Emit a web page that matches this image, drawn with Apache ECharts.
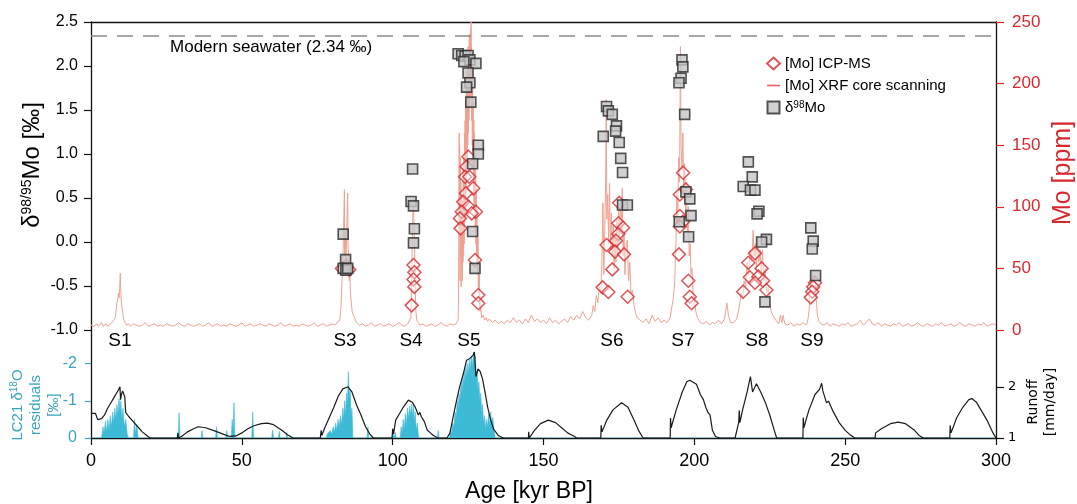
<!DOCTYPE html>
<html><head><meta charset="utf-8">
<script src="https://cdn.jsdelivr.net/npm/echarts@6/dist/echarts.min.js"></script>
<style>html,body{margin:0;padding:0;background:#fff}#c{width:1077px;height:504px}</style>
</head><body><div id="c"></div>
<script>
// ---------- DATA ----------
// XRF core scanning Mo [age kyr, ppm]
const xrfMo = [
[0,4],[0.5,5],[1,3],[1.5,4],[2,5],[2.5,3],[3,4],[3.5,6],[4,3],[4.5,4],[5,5],[5.5,3],[6,4],[6.5,5],[7,6],
[7.5,8],[8,10],[8.3,15],[8.6,22],[8.9,25],[9.1,30],[9.3,26],[9.5,34],[9.7,46],[9.9,30],[10.1,22],[10.3,18],[10.6,12],[10.9,8],[11.3,6],[11.8,4],
[12.5,5],[13,3],[14,5],[15,4],[16,3],[17,4],[18,6],[19,3],[20,4],[21,5],[22,3],[23,4],[24,3],[25,5],[26,4],[27,3],[28,4],[29,6],[30,4],[31,3],[32,5],[33,4],[34,3],[35,4],[36,5],[37,3],[38,4],[39,6],[40,3],[41,4],[42,5],[43,3],[44,4],[45,3],[46,5],[47,4],[48,3],[49,4],[50,6],[51,3],[52,4],[53,5],[54,3],[55,4],[56,5],[57,4],[58,3],[59,5],[60,4],[61,3],[62,4],[63,6],[64,3],[65,4],[66,5],[67,3],[68,4],[69,3],[70,5],[71,4],[72,3],[73,4],[74,6],[75,3],[76,4],[77,5],[78,3],[79,4],[80,5],[81,4],[81.5,6],[82,5],
[82.5,8],[82.9,20],[83.2,40],[83.5,55],[83.8,90],[84.0,114],[84.1,60],[84.3,80],[84.5,55],[84.7,70],[84.9,95],[85.1,111],[85.2,70],[85.4,60],[85.6,40],[85.8,45],[86.0,30],[86.3,22],[86.6,15],[87.0,12],[87.5,9],[88,6],
[89,4],[90,5],[91,3],[92,4],[93,6],[94,3],[95,4],[96,5],[97,3],[98,4],[99,5],[100,3],[101,4],[102,6],[103,4],[104,3],[105,5],
[105.5,5],[106.0,10],[106.3,40],[106.5,70],[106.7,95],[106.9,100],[107.1,85],[107.3,60],[107.5,30],[107.7,15],[108,8],[108.5,6],
[109,4],[110,5],[111,3],[112,4],[113,5],[114,3],[115,4],[116,6],[117,4],[118,3],[119,5],[120,4],[121,5],
[121.5,5],[121.7,8],[121.8,20],[121.9,60],[122.0,120],[122.05,160],[122.1,90],[122.2,150],[122.3,40],[122.4,140],[122.5,60],[122.6,120],[122.7,35],[122.8,110],[122.9,50],[123.0,95],[123.1,40],[123.2,105],[123.3,55],[123.4,130],[123.5,60],[123.6,140],[123.7,70],[123.8,160],[123.9,90],[124.0,170],[124.1,100],[124.2,185],[124.3,110],[124.4,200],[124.5,120],[124.6,210],[124.7,140],[124.8,220],[124.9,150],[125.0,230],[125.1,160],[125.2,215],[125.3,170],[125.4,240],[125.5,180],[125.6,230],[125.7,190],[125.8,245],[125.9,200],[126.0,275],[126.05,190],[126.1,230],[126.2,170],[126.3,220],[126.4,150],[126.5,200],[126.6,130],[126.7,185],[126.8,110],[126.9,170],[127.0,100],[127.1,160],[127.2,90],[127.3,140],[127.4,80],[127.5,130],[127.6,70],[127.7,115],[127.8,60],[127.9,100],[128.0,50],[128.1,85],[128.2,45],[128.3,75],[128.4,35],[128.5,55],[128.6,30],[128.7,45],[128.8,20],[128.9,28],[129.0,15],[129.2,18],[129.5,10],
[130,12],[130.5,8],[131,10],[131.5,7],[132,9],[133,6],[134,8],[135,5],[136,7],[137,5],[138,8],[139,6],[140,10],[141,6],[142,8],[143,5],[144,9],[145,6],[146,12],[147,7],[148,9],[149,6],[150,8],[151,5],[152,10],[153,6],[154,8],[155,5],[156,7],[157,9],[158,6],[159,11],[160,8],[161,12],[162,9],[163,15],[164,10],
[165,8],[166,12],[166.5,20],[167,15],[167.5,28],[168,22],[168.5,35],[169,30],[169.4,60],[169.7,103],[170.0,45],[170.3,80],[170.6,120],[170.8,187],[171.0,90],[171.3,110],[171.6,70],[171.9,119],[172.2,65],[172.5,95],[172.8,60],[173.1,85],[173.4,50],[173.7,78],[174.0,55],[174.3,90],[174.6,60],[174.9,100],[175.2,70],[175.5,105],[175.8,80],[176.1,115],[176.4,60],[176.7,80],[177.0,45],[177.4,70],[177.8,73],[178.2,40],[178.6,55],[179.0,30],[179.5,32],[180,20],[180.5,14],[181,10],[182,8],
[183,6],[184,9],[185,5],[186,12],[187,7],[188,10],[189,6],[190,8],[191,6],
[191.5,6],[192,10],[192.5,18],[193,25],[193.5,40],[193.9,70],[194.2,110],[194.5,90],[194.8,140],[195.1,120],[195.4,230],[195.6,150],[195.9,130],[196.2,160],[196.5,110],[196.8,135],[197.1,95],[197.4,120],[197.7,80],[198.0,100],[198.3,60],[198.6,70],[198.9,45],[199.2,50],[199.6,30],[200.0,25],[200.5,15],[201,10],[201.5,8],[202,6],
[203,5],[204,7],[205,4],[206,6],[207,5],[208,8],[209,5],[210,9],[210.8,22],[211.3,12],[212,6],
[213,6],[214,9],[214.5,14],[215,20],[215.5,30],[216,25],[216.5,40],[217,35],[217.5,55],[218,45],[218.5,65],[219,55],[219.5,81],[219.8,60],[220.2,70],[220.6,50],[221,76],[221.4,55],[221.8,65],[222.2,45],[222.6,65],[223,40],[223.5,50],[224,30],[224.5,35],[225,22],[225.5,15],[226,12],[227,8],
[228,5],[228.5,12],[229,6],[229.4,12],[230,5],[231,4],[232,6],[233,3],[234,5],[235,4],[236,6],[237,4],
[237.5,6],[238,15],[238.4,30],[238.8,40],[239.2,46],[239.6,38],[240,42],[240.4,25],[240.8,12],[241.3,7],
[242,5],[243,4],[244,6],[245,3],[246,5],[247,4],[248,3],[249,5],[250,4],[251,6],[252,3],[253,4],[254,5],[255,8],[256,4],[257,6],[258,9],[259,5],[260,4],[261,6],[262,3],[263,5],[264,4],[265,3],[266,5],[267,4],[268,6],[269,3],[270,4],[271,5],[272,3],[273,4],[274,6],[275,4],[276,3],[277,5],[278,4],[279,3],[280,5],[281,4],[282,6],[283,3],[284,4],[285,5],[286,3],[287,4],[288,6],[289,4],[290,3],[291,5],[292,4],[293,3],[294,5],[295,4],[296,6],[297,3],[298,4],[299,5],[300,4]
];
// ICP-MS Mo [age, ppm]
const icpMo = [
[83.2,50],[84.5,52],[85.6,49],
[106.9,52.8],[107.2,46.8],[106.9,41],[107.2,35],[106.3,20],
[125.1,140.7],[124.5,132.6],[124.0,124.4],[125.4,124.4],[126.7,115],[124.3,111],[123.4,104],[125.1,100],[127.6,96],[126.2,94.7],[122.9,96],[122.3,90.6],[122.5,82.5],[127.3,56.8],[128.4,28.4],[128.4,21.7],
[175.1,103.2],[174.8,86.6],[176.4,83],[174.8,77.9],[174.0,72.5],[170.9,69],[173.7,63.6],[176.7,61.4],[172.8,49.2],[169.6,34.6],[171.5,30.8],[177.9,27],
[196.3,127.7],[195.2,110],[197.2,114],[195.2,92.5],[196.3,88],[195.2,84],[194.9,61.4],[198.0,40],[198.5,27],[199.1,21.7],
[220.1,62.2],[217.9,54.6],[222.3,50],[218.4,42.8],[221.2,43.3],[222.8,40],[220.1,38.4],[223.9,32.5],[216.2,31.1],
[240.0,38.4],[239.4,35],[239.1,31],[238.6,26.5]
];
// delta98Mo [age, permil]
const d98Mo = [
[83.6,0.09],[84.4,-0.20],[83.6,-0.30],[84.5,-0.32],[85.1,-0.30],
[106.6,0.83],[106.1,0.46],[106.9,0.41],[107.2,0.15],[106.9,-0.01],
[121.7,2.14],[122.9,2.12],[124.0,2.11],[125.0,2.12],[125.6,2.07],[127.6,2.03],[123.6,2.05],[125.0,1.92],[125.6,1.81],[124.5,1.76],[125.9,1.59],[128.4,1.10],[128.4,1.0],[126.5,0.89],[126.5,0.12],[127.3,-0.30],
[170.9,1.54],[171.5,1.49],[172.8,1.45],[174.2,1.32],[173.9,1.26],[169.8,1.20],[175.1,1.13],[175.6,0.95],[176.2,0.79],[176.2,0.42],[177.8,0.42],
[195.9,2.07],[196.2,1.99],[195.6,1.86],[194.9,1.81],[196.8,1.45],[197.2,0.57],[198.5,0.49],[198.9,0.30],[195.0,0.23],[198.1,0.06],
[217.9,0.91],[219.2,0.74],[216.2,0.63],[218.6,0.59],[220.1,0.59],[221.4,0.35],[220.8,0.32],[223.9,0.03],[222.3,0.0],[223.4,-0.68],
[238.6,0.16],[239.4,0.01],[239.1,-0.08],[240.2,-0.38]
];
// LC21 d18O residuals [age, permil]
const lc21Residuals = [
[0,0],[3.5,0],[4,-0.3],[4.3,-0.1],[4.8,-0.45],[5.1,-0.15],[5.6,-0.5],[6.0,-0.2],[6.4,-0.6],[6.8,-0.3],[7.2,-0.7],[7.5,-0.4],[7.9,-0.8],[8.2,-0.5],[8.6,-0.9],[8.9,-0.6],[9.3,-1.07],[9.6,-0.7],[9.9,-1.0],[10.2,-0.5],[10.6,-0.8],[11.0,-0.3],[11.5,-0.5],[12,-0.1],[12.5,0],[14.1,0],[14.4,-0.5],[14.8,-0.1],[15.2,-0.35],[15.6,0],
[28.9,0],[29.2,-0.68],[29.5,0],[36.5,0],[36.8,-0.2],[37.1,0],[41.3,0],[41.6,-0.3],[41.9,0],[44.7,0],[45,-0.2],[45.3,0],[46.5,0],[46.8,-0.5],[47.1,-0.2],[47.4,-0.95],[47.7,0],[53.3,0],[53.6,-0.7],[53.9,0],[59.9,0],[60.2,-0.22],[60.5,0],[62.1,0],[62.4,-0.18],[62.7,0],[64.6,0],[64.9,-0.15],[65.2,0],
[78,0],[78.3,-0.1],[78.8,-0.05],[79.3,-0.2],[79.8,-0.1],[80.3,-0.3],[80.7,-0.15],[81.1,-0.4],[81.5,-0.2],[81.9,-0.5],[82.3,-0.3],[82.7,-0.6],[83.1,-0.35],[83.5,-0.8],[83.8,-0.5],[84.1,-1.0],[84.4,-0.6],[84.7,-1.2],[85.0,-0.9],[85.3,-1.78],[85.6,-1.1],[85.9,-1.3],[86.2,-0.6],[86.5,-0.8],[86.8,0],[91.5,0],[91.8,-0.3],[92.1,0],
[99.8,0],[100.1,-0.25],[100.4,0],[100.9,-0.15],[101.2,0],[102.5,0],[102.8,-0.3],[103.1,-0.1],[103.5,-0.5],[103.8,-0.2],[104.2,-0.65],[104.5,-0.3],[104.9,-0.8],[105.2,-0.5],[105.6,-0.85],[105.9,-0.6],[106.3,-0.9],[106.6,-0.55],[106.9,-0.93],[107.2,-0.4],[107.5,-0.7],[107.8,-0.2],[108.2,-0.4],[108.6,0],[114.8,0],[115.1,-0.2],[115.4,0],
[118.8,0],[119.1,-0.2],[119.5,-0.1],[119.9,-0.4],[120.3,-0.3],[120.7,-0.7],[121.0,-0.5],[121.4,-1.0],[121.7,-0.8],[122.0,-1.2],[122.3,-1.0],[122.7,-1.5],[123.0,-1.2],[123.3,-1.7],[123.6,-1.4],[124.0,-1.9],[124.3,-1.6],[124.7,-2.0],[125.0,-1.7],[125.4,-2.1],[125.7,-1.8],[126.1,-2.2],[126.4,-1.9],[126.8,-2.3],[127.1,-2.0],[127.4,-2.19],[127.7,-1.6],[128.0,-1.8],[128.3,-1.3],[128.6,-1.5],[128.9,-1.0],[129.2,-1.2],[129.5,-0.7],[129.8,-0.9],[130.1,-0.4],[130.4,-0.6],[130.7,-0.2],[131.0,-0.5],[131.4,-0.3],[131.8,-0.65],[132.1,-0.3],[132.5,-0.7],[132.8,-0.4],[133.2,-0.55],[133.6,-0.2],[134.0,0],
[300,0]
];
// Runoff [age, mm/day]
const runoff = [
[0,1.48],[1.5,1.48],[2.2,1.36],[3.5,1.38],[4.5,1.45],[5.5,1.58],[6.5,1.68],[7.5,1.78],[8.5,1.88],[9.2,1.95],[9.6,2.0],[9.8,1.75],[10.1,1.85],[10.5,1.92],[11.0,1.9],[11.2,1.8],[11.5,1.5],[12.5,1.42],[14,1.32],[15.5,1.22],[17,1.12],[18.5,1.05],[19.6,1.0],
[28.6,1.0],[28.8,1.1],[29,1.0],[30,1.03],[32,1.12],[34,1.18],[35.5,1.22],[38,1.2],[41,1.14],[44,1.07],[46,1.03],[48,1.04],[50,1.1],[52,1.18],[54,1.24],[56.5,1.28],[58.5,1.29],[60.5,1.26],[62,1.2],[63.5,1.14],[64,1.15],[65,1.07],[67,1.0],
[76,1.0],[76.3,1.15],[76.5,1.05],[77.5,1.2],[79,1.4],[80.5,1.6],[82,1.82],[83.5,1.96],[85.2,2.0],[86.5,1.9],[88,1.65],[89.5,1.45],[91,1.22],[92.5,1.07],[93.6,1.0],
[99.8,1.0],[100,1.18],[100.3,1.08],[101,1.35],[102,1.45],[103.5,1.6],[105.2,1.74],[106.5,1.7],[107.5,1.6],[108.5,1.45],[109,1.5],[109.5,1.42],[110.5,1.32],[111.5,1.15],[112.5,1.1],[113.5,1.05],[115,1.0],
[118,1.0],[119,1.1],[120,1.4],[121.2,1.74],[122.2,2.0],[123.4,2.25],[124.5,2.52],[125.5,2.55],[126.7,2.62],[127.1,2.68],[127.6,2.2],[128.3,2.35],[129.0,2.3],[129.8,2.15],[130.6,1.9],[131.5,1.6],[132.5,1.35],[133.5,1.17],[135,1.05],[136.7,1.0],
[145,1.0],[145.1,1.12],[145.3,1.0],[147,1.15],[149,1.28],[151.6,1.35],[154,1.3],[156,1.2],[158,1.1],[159,1.07],[159.3,1.1],[160,1.04],[161,1.0],
[169,1.0],[169.1,1.25],[169.4,1.12],[171,1.35],[173,1.55],[175.9,1.69],[178,1.6],[180,1.35],[181.5,1.15],[183,1.0],
[192,1.0],[192.1,1.39],[192.3,1.2],[194,1.55],[196,1.9],[197.5,2.1],[198.5,2.13],[200.7,2.05],[202,1.85],[203,1.75],[203.8,1.6],[204.5,1.5],[205.2,1.45],[206,1.15],[207,1.03],[208.5,1.0],
[213.5,1.0],[214.7,1.3],[214.9,1.54],[215.1,1.3],[216,1.55],[217.5,1.9],[218.6,2.2],[219.3,1.9],[220.6,2.06],[222,1.9],[223.5,1.7],[225,1.45],[226.5,1.15],[227.3,1.0],
[236,1.0],[236.1,1.4],[236.3,1.2],[238,1.55],[240,1.85],[241.5,1.95],[242.2,2.07],[242.6,1.92],[243.8,1.69],[244.5,1.72],[246,1.52],[248,1.3],[250,1.15],[251.5,1.07],[253.2,1.0],
[259.9,1.0],[260.1,1.1],[262,1.18],[265,1.28],[267.6,1.31],[270,1.28],[273,1.15],[274.5,1.05],[275.9,1.0],
[284.7,1.0],[284.8,1.25],[285.1,1.1],[287,1.4],[289,1.6],[291,1.75],[292,1.77],[293.5,1.7],[295,1.55],[297,1.35],[299,1.1],[300,1.0]
];
const sapropelNames = ['S1','S3','S4','S5','S6','S7','S8','S9'];
const sapropelAges = [9.6,84.2,106.1,125.3,172.7,196.2,220.7,239.0];
const seawaterD98 = 2.34;
const seawaterText = 'Modern seawater (2.34 ‰)';
const seawaterTextAge = 26.2;
const residualTicks = [-2,-1,0];
const runoffTicks = [1,2];

// ---------- CHART ----------
const FONT = '"Liberation Sans", Arial, Helvetica, sans-serif';
const RED = '#d8282e';
const CYAN = '#3dbad6';
const CYAN_T = '#3aa5bd';
const chart = echarts.init(document.getElementById('c'), null, {renderer:'canvas'});
const blackLine = {show:true, onZero:false, lineStyle:{color:'#111', width:1.3}};

const option = {
  animation:false,
  backgroundColor:'#fff',
  textStyle:{fontFamily:FONT},
  grid:[
    {left:91, right:81, top:22, height:308},
    {left:91, right:81, top:330, height:108}
  ],
  legend:{
    orient:'vertical', left:761, top:51, itemWidth:13, itemHeight:12, itemGap:7,
    selectedMode:false, symbolKeepAspect:true,
    textStyle:{fontSize:15, color:'#000', fontFamily:FONT,
      rich:{n:{fontSize:15, fontFamily:FONT, color:'#000'}, s:{fontSize:10, fontFamily:FONT, color:'#000', verticalAlign:'top'}}},
    formatter: n => n === 'd98' ? '{n|δ}{s|98}{n|Mo}' : n,
    data:[
      {name:'[Mo] ICP-MS', icon:'diamond'},
      {name:'[Mo] XRF core scanning', icon:'path://M0,0L14,0L14,1.8L0,1.8Z', itemStyle:{color:'#e8606a'}},
      {name:'d98', icon:'path://M1,1L11,1L11,11L1,11Z'}
    ]
  },
  xAxis:[
    {gridIndex:0, type:'value', min:0, max:300, position:'top',
     axisLine:blackLine, axisTick:{show:false}, axisLabel:{show:false}, splitLine:{show:false}},
    {gridIndex:1, type:'value', min:0, max:300, interval:50, position:'bottom',
     axisLine:blackLine, axisTick:{show:true, length:7, lineStyle:{color:'#111', width:1.2}},
     axisLabel:{fontSize:18, color:'#000', margin:14, fontFamily:FONT}, splitLine:{show:false}}
  ],
  yAxis:[
    {gridIndex:0, type:'value', min:-1, max:2.5, interval:0.5, position:'left',
     axisLine:blackLine, axisTick:{show:true, length:7, lineStyle:{color:'#111', width:1.2}},
     axisLabel:{formatter:v=>v.toFixed(1), fontSize:16, color:'#000', margin:13, fontFamily:FONT}, splitLine:{show:false}},
    {gridIndex:0, type:'value', min:0, max:250, interval:50, position:'right',
     axisLine:blackLine, axisTick:{show:true, length:8, lineStyle:{color:RED, width:1.2}},
     axisLabel:{fontSize:17, color:RED, margin:16, fontFamily:FONT}, splitLine:{show:false}},
    {gridIndex:1, type:'value', min:-2.9, max:0, inverse:true, position:'left',
     axisLine:blackLine, axisTick:{show:true, length:6, customValues:residualTicks, lineStyle:{color:CYAN_T, width:1.2}},
     axisLabel:{customValues:residualTicks, fontSize:16, color:CYAN_T, margin:14, fontFamily:FONT}, splitLine:{show:false}},
    {gridIndex:1, type:'value', min:1, max:3.11, position:'right',
     axisLine:blackLine, axisTick:{show:true, length:8, customValues:runoffTicks, lineStyle:{color:'#111', width:1.2}},
     axisLabel:{customValues:runoffTicks, fontSize:13, color:'#000', margin:12, fontFamily:'"DejaVu Sans", sans-serif'}, splitLine:{show:false}}
  ],
  series:[
    {name:'[Mo] XRF core scanning', type:'line', xAxisIndex:0, yAxisIndex:1, data:xrfMo,
     symbol:'none', showSymbol:false, silent:true, z:1,
     itemStyle:{color:'#eea292'}, lineStyle:{color:'#eea292', width:1}},
    {name:'[Mo] ICP-MS', type:'scatter', xAxisIndex:0, yAxisIndex:1, data:icpMo,
     symbol:'diamond', symbolSize:13, silent:true, z:3,
     itemStyle:{color:'rgba(255,255,255,0.55)', borderColor:RED, borderWidth:1.5}},
    {name:'d98', type:'scatter', xAxisIndex:0, yAxisIndex:0, data:d98Mo,
     symbol:'rect', symbolSize:10, silent:true, z:4,
     itemStyle:{color:'#c6c6c6', borderColor:'#2a2a2a', borderWidth:1.6},
     markLine:{silent:true, symbol:'none', animation:false,
       lineStyle:{color:'#8a8a8a', width:1.5, type:[16,10]},
       label:{show:false}, data:[{yAxis:seawaterD98}]}},
    {name:'annot', type:'scatter', xAxisIndex:0, yAxisIndex:0, silent:true, z:5,
     symbolSize:0, itemStyle:{color:'#000'},
     data:[{name:seawaterText, value:[seawaterTextAge, seawaterD98]}],
     label:{show:true, formatter:'{b}', position:[0,3], align:'left', verticalAlign:'top',
       fontSize:17, color:'#000', opacity:1, fontFamily:FONT}},
    {name:'sap', type:'scatter', xAxisIndex:0, yAxisIndex:0, silent:true, z:5,
     symbolSize:0, itemStyle:{color:'#000'},
     data:sapropelAges.map((a,i)=>({name:sapropelNames[i], value:[a,-1]})),
     label:{show:true, formatter:'{b}', position:'bottom', distance:1,
       fontSize:19, color:'#000', opacity:1, fontFamily:FONT}},
    {name:'LC21', type:'line', xAxisIndex:1, yAxisIndex:2, data:lc21Residuals,
     symbol:'none', showSymbol:false, silent:true, z:1,
     lineStyle:{color:CYAN, width:0.6}, areaStyle:{color:CYAN, opacity:1}},
    {name:'Runoff', type:'line', xAxisIndex:1, yAxisIndex:3, data:runoff,
     symbol:'none', showSymbol:false, silent:true, z:3,
     lineStyle:{color:'#1a1a1a', width:1.2}}
  ],
  graphic:[
    {type:'text', x:32, y:165, rotation:Math.PI/2, silent:true,
     style:{text:'{a|δ}{s|98/95}{a|Mo [‰]}', align:'center', verticalAlign:'middle', fill:'#000',
       rich:{a:{fontSize:24, fontFamily:FONT, fill:'#000', color:'#000'}, s:{fontSize:14, fontFamily:FONT, fill:'#000', color:'#000', verticalAlign:'top'}}}},
    {type:'text', x:1063, y:173, rotation:Math.PI/2, silent:true,
     style:{text:'Mo [ppm]', align:'center', verticalAlign:'middle', fill:RED, font:'25px "Liberation Sans", Arial, sans-serif'}},
    {type:'text', x:36, y:405, rotation:Math.PI/2, silent:true,
     style:{text:'{a|LC21 δ}{s|18}{a|O}\n{a|residuals}\n{a|[‰]}', align:'center', verticalAlign:'middle', fill:CYAN_T,
       rich:{a:{fontSize:15, lineHeight:18, fontFamily:FONT, fill:CYAN_T, color:CYAN_T}, s:{fontSize:10, lineHeight:18, fontFamily:FONT, fill:CYAN_T, color:CYAN_T, verticalAlign:'top'}}}},
    {type:'text', x:1042, y:402, rotation:Math.PI/2, silent:true,
     style:{text:'Runoff\n[mm/day]', align:'center', verticalAlign:'middle', fill:'#000', lineHeight:17,
       font:'14px "DejaVu Sans", sans-serif'}},
    {type:'text', x:529, y:492, silent:true,
     style:{text:'Age [kyr BP]', align:'center', verticalAlign:'middle', fill:'#000', font:'23px "Liberation Sans", Arial, sans-serif'}}
  ]
};
chart.setOption(option);
</script>
</body></html>
